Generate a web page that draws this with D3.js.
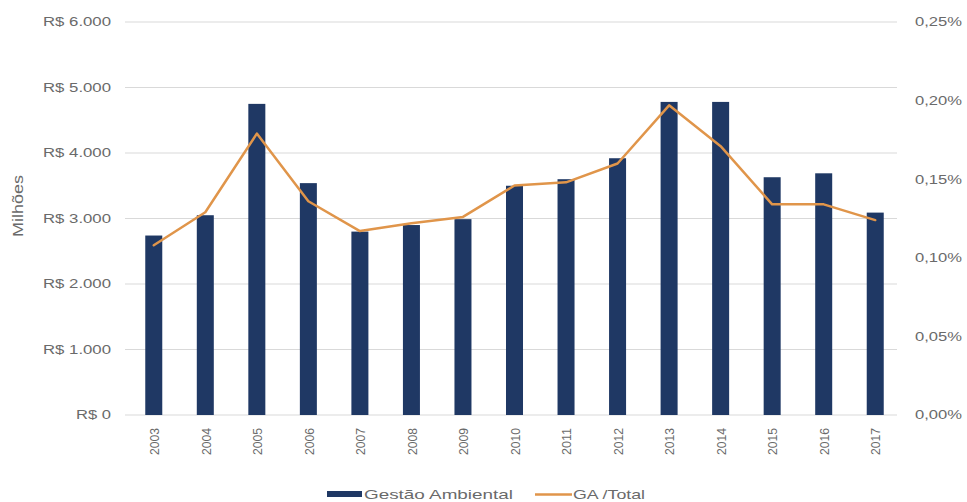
<!DOCTYPE html>
<html><head><meta charset="utf-8">
<script src="https://cdn.jsdelivr.net/npm/d3@7"></script>
<style>body{margin:0;background:#fff}svg{display:block}text{font-family:"Liberation Sans",Arial,sans-serif;fill:#6a6a6a}</style>
</head><body><svg id="c" width="967" height="502"></svg>
<script>
const years = ["2003","2004","2005","2006","2007","2008","2009","2010","2011","2012","2013","2014","2015","2016","2017"];
const gestaoAmbiental = [2740,3050,4750,3540,2800,2900,2990,3500,3600,3920,4780,4780,3630,3690,3090];
const gaTotal = [0.108,0.129,0.179,0.136,0.117,0.122,0.126,0.146,0.148,0.160,0.197,0.171,0.134,0.134,0.124];
const leftTicks = [0,1000,2000,3000,4000,5000,6000];
const rightTicks = [0,0.05,0.10,0.15,0.20,0.25];

const svg = d3.select("#c");
const m = {l:128, r:901, t:22, b:415};
const x = d3.scaleBand().domain(years).range([m.l, m.r]).paddingInner(0.67).paddingOuter(0.335);
const yL = d3.scaleLinear().domain([0,6000]).range([m.b, m.t]);
const yR = d3.scaleLinear().domain([0,0.25]).range([m.b, m.t]);

// gridlines
svg.append("g").selectAll("line").data(leftTicks).join("line")
  .attr("x1", m.l-3).attr("x2", m.r-4)
  .attr("y1", d=>yL(d)).attr("y2", d=>yL(d))
  .attr("stroke", "#d9d9d9").attr("stroke-width", 1);

// left axis labels
const fmtL = d => "R$ " + d3.format(",")(d).replace(/,/g, ".");
svg.append("g").selectAll("text").data(leftTicks).join("text")
  .attr("x", 111).attr("y", d=>yL(d)).attr("dy", "0.35em")
  .attr("text-anchor", "end").attr("font-size", 12.5)
  .attr("textLength", d=>d===0?35:68).attr("lengthAdjust","spacingAndGlyphs").text(fmtL);

// right axis labels
const fmtR = d => d3.format(".2f")(d).replace(".", ",") + "%";
svg.append("g").selectAll("text").data(rightTicks).join("text")
  .attr("x", 915).attr("y", d=>yR(d)).attr("dy", "0.35em")
  .attr("text-anchor", "start").attr("font-size", 12.5)
  .attr("textLength", 47).attr("lengthAdjust","spacingAndGlyphs").text(fmtR);

// y title
svg.append("text").attr("transform", "translate(23,206) rotate(-90)")
  .attr("text-anchor", "middle").attr("font-size", 15)
  .attr("textLength", 62).attr("lengthAdjust","spacingAndGlyphs").text("Milhões");

// bars
svg.append("g").selectAll("rect").data(gestaoAmbiental).join("rect")
  .attr("x", (d,i)=>x(years[i])).attr("width", x.bandwidth())
  .attr("y", d=>yL(d)).attr("height", d=>yL(0)-yL(d))
  .attr("fill", "#1f3864");

// line
const line = d3.line().x((d,i)=>x(years[i])+x.bandwidth()/2).y(d=>yR(d));
svg.append("path").datum(gaTotal).attr("d", line)
  .attr("fill", "none").attr("stroke", "#e0954a").attr("stroke-width", 2.5)
  .attr("stroke-linejoin", "round").attr("stroke-linecap", "round");

// x labels
svg.append("g").selectAll("text").data(years).join("text")
  .attr("transform", d=>`translate(${x(d)+x.bandwidth()/2+1},${428}) rotate(-90)`)
  .attr("text-anchor", "end").attr("dy", "0.35em").attr("font-size", 12)
  .attr("textLength", 27).attr("lengthAdjust","spacingAndGlyphs").text(d=>d);

// legend
const lg = svg.append("g");
lg.append("rect").attr("x", 327).attr("y", 491).attr("width", 35).attr("height", 6).attr("fill", "#1f3864");
lg.append("text").attr("x", 364).attr("y", 494).attr("dy", "0.35em").attr("font-size", 13)
  .attr("textLength", 149).attr("lengthAdjust","spacingAndGlyphs").text("Gestão Ambiental");
lg.append("line").attr("x1", 535).attr("x2", 572).attr("y1", 494.5).attr("y2", 494.5)
  .attr("stroke", "#e0954a").attr("stroke-width", 2.5);
lg.append("text").attr("x", 573).attr("y", 494).attr("dy", "0.35em").attr("font-size", 13)
  .attr("textLength", 72).attr("lengthAdjust","spacingAndGlyphs").text("GA /Total");
</script></body></html>
